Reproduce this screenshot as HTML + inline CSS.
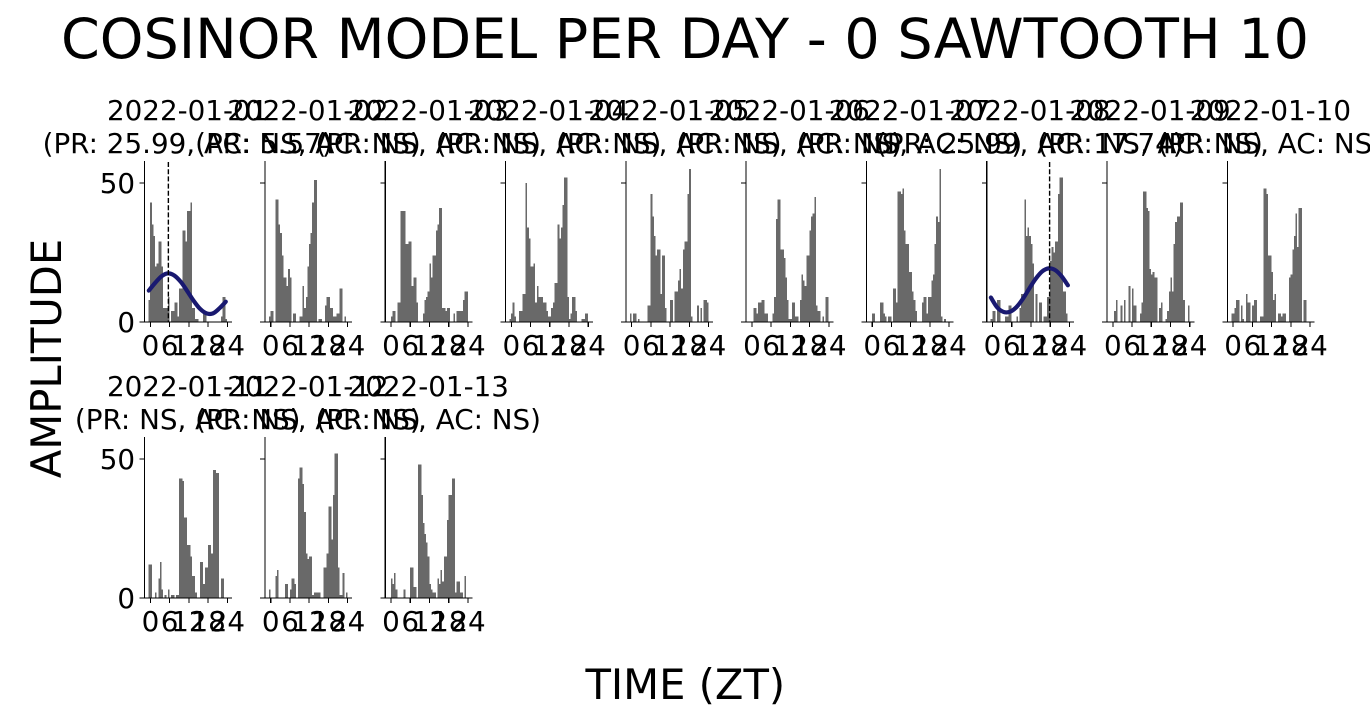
<!DOCTYPE html>
<html lang="en">
<head>
<meta charset="utf-8">
<title>Cosinor model per day</title>
<style>
  html, body { margin: 0; padding: 0; background: #fff; }
  body { width: 1370px; height: 715px; overflow: hidden; }
  svg { display: block; font-family: "DejaVu Sans", "Liberation Sans", sans-serif; fill: #000; }
</style>
</head>
<body>
<svg id="chart" xmlns="http://www.w3.org/2000/svg" width="1370" height="715" viewBox="0 0 1370 715">
  <text x="685" y="58" font-size="55.56" text-anchor="middle">COSINOR MODEL PER DAY - 0 SAWTOOTH 10</text>
  <text x="685.3" y="699" font-size="41.67" text-anchor="middle">TIME (ZT)</text>
  <text x="0" y="0" font-size="41.67" text-anchor="middle" transform="translate(61 358.5) rotate(-90)">AMPLITUDE</text>
</svg>
<script>
const dayLabels = ["2022-01-01","2022-01-02","2022-01-03","2022-01-04","2022-01-05","2022-01-06","2022-01-07","2022-01-08","2022-01-09","2022-01-10","2022-01-11","2022-01-12","2022-01-13"];
const statLabels = ["(PR: 25.99, AC: 5.57)","(PR: NS, AC: NS)","(PR: NS, AC: NS)","(PR: NS, AC: NS)","(PR: NS, AC: NS)","(PR: NS, AC: NS)","(PR: NS, AC: NS)","(PR: 25.99, AC: 17.74)","(PR: NS, AC: NS)","(PR: NS, AC: NS)","(PR: NS, AC: NS)","(PR: NS, AC: NS)","(PR: NS, AC: NS)"];
const xTickValues = [0, 6, 12, 18, 24];
const xTickLabels = ["0", "6", "12", "18", "24"];
const yTickValues = [0, 50];
const yTickLabels = ["0", "50"];

const day01 = [8,43,35,31,20,21,29,29,20,5,5,5,9,0,4,4,7,7,2,12,12,33,33,29,40,40,43,5,5,1,1,0,0,0,4,4,0,0,0,0,0,0,0,0,0,2,9,9,1];
const day02 = [2,4,4,0,44,44,35,32,24,16,16,13,19,16,0,3,3,0,0,2,2,13,5,9,20,28,32,43,51,51,0,1,1,0,0,6,9,9,5,5,2,2,3,3,12,12,0,2,0];
const day03 = [0,2,4,4,0,7,7,40,40,40,28,28,29,29,13,16,16,7,0,0,0,3,8,9,11,21,16,24,24,33,35,41,41,5,5,4,5,5,0,0,3,0,4,4,4,4,8,11,11];
const day04 = [1,3,7,2,0,0,4,4,10,10,50,34,30,20,20,21,7,13,9,9,9,7,7,4,2,2,5,7,14,14,35,30,34,42,52,52,9,1,3,9,9,4,0,0,0,1,1,3,3];
const day05 = [3,0,3,3,0,1,0,0,0,0,0,6,6,46,38,31,24,26,26,10,24,24,5,0,0,8,8,0,11,11,15,19,12,26,29,29,46,55,2,0,0,0,6,0,5,0,8,8,7];
const day06 = [0,0,5,5,3,7,7,8,8,3,3,0,0,0,3,9,37,44,44,26,26,23,16,8,1,1,7,7,2,2,0,8,17,15,13,24,24,33,38,39,45,6,4,4,0,2,0,9,9];
const day07 = [0,3,3,0,0,0,7,7,3,2,0,2,2,0,12,12,7,47,47,46,48,33,28,28,18,18,11,8,4,0,0,0,7,9,9,3,9,9,15,17,28,38,36,55,2,0,1,0,0];
const day08 = [1,4,4,0,8,8,0,0,0,2,2,6,6,0,0,0,2,0,5,10,10,44,31,34,31,28,21,0,10,0,7,7,0,2,2,9,9,22,27,25,29,29,46,52,52,11,11,3,0];
const day09 = [0,0,4,8,0,0,6,0,8,0,0,13,0,12,6,6,0,0,3,7,47,47,41,40,19,17,18,16,16,0,5,7,0,0,1,4,11,16,11,28,36,38,38,43,43,8,0,0,6];
const day10 = [3,3,5,8,8,0,6,1,0,10,7,7,0,6,8,8,0,0,2,2,48,48,46,24,24,18,8,10,0,3,3,2,3,3,0,0,16,17,26,31,39,27,41,41,0,8,8,0,0];
const day11 = [12,12,0,0,2,0,7,13,3,0,1,0,3,0,1,1,0,1,1,43,43,42,29,29,19,19,15,8,8,2,0,0,13,13,5,11,11,19,19,16,46,46,45,45,0,7,7,0,0];
const day12 = [3,0,0,0,8,10,0,0,0,0,5,5,0,3,7,7,5,0,43,47,47,41,31,16,14,15,15,1,2,2,2,2,0,0,11,11,16,33,33,21,37,52,52,11,1,1,9,0,2];
const day13 = [0,7,5,9,3,0,0,0,0,3,0,0,0,11,11,4,4,0,48,48,37,27,23,20,15,5,3,2,2,0,7,5,10,6,15,15,28,37,37,43,43,2,6,6,2,2,0,8,0];
const dayBins = [day01,day02,day03,day04,day05,day06,day07,day08,day09,day10,day11,day12,day13];

const curveHours = [-0.5,1.5,3.5,5.5,7.5,9.5,11.5,13.5,15.5,17.5,19.5,21.5,23.5];
const curveDay01 = [11.3,14.1,16.5,17.5,16.7,14.4,11.1,7.6,4.7,3.1,3.1,4.9,7.3];
const curveDay08 = [8.8,5.2,3.6,3.7,5.4,8.4,12.1,15.6,18.2,19.3,18.7,16.5,13.2];
const curvesByPanel = { 0: curveDay01, 7: curveDay08 };
const acrophaseByPanel = { 0: 5.6, 7: 17.8 };

const NS = "http://www.w3.org/2000/svg";
const svg = document.getElementById("chart");
const binHours = 0.5;
const binStart = -0.55;
const rowBase = [322, 598];
const rowTop = [161, 437];
const columnStep = 120.3;
const firstColumn = 144.6;
const axisWidth = 87.3;
const perColumn = 10;

function axisLeft(panel) { return firstColumn + columnStep * (panel % perColumn); }
function rowOf(panel) { return Math.floor(panel / perColumn); }
function xScale(panel, hour) { return axisLeft(panel) + 5.8 + hour * 3.208; }
function yScale(panel, value) { return rowBase[rowOf(panel)] - value * 2.78; }

function make(tag, parent, attrs) {
  const el = document.createElementNS(NS, tag);
  for (const key in attrs) el.setAttribute(key, attrs[key]);
  parent.appendChild(el);
  return el;
}

function smoothPath(xs, ys) {
  let d = "M" + xs[0].toFixed(2) + " " + ys[0].toFixed(2);
  for (let i = 0; i < xs.length - 1; i++) {
    const p0 = Math.max(i - 1, 0), p3 = Math.min(i + 2, xs.length - 1);
    const c1x = xs[i] + (xs[i + 1] - xs[p0]) / 6, c1y = ys[i] + (ys[i + 1] - ys[p0]) / 6;
    const c2x = xs[i + 1] - (xs[p3] - xs[i]) / 6, c2y = ys[i + 1] - (ys[p3] - ys[i]) / 6;
    d += "C" + c1x.toFixed(2) + " " + c1y.toFixed(2) + " " + c2x.toFixed(2) + " " + c2y.toFixed(2) + " " + xs[i + 1].toFixed(2) + " " + ys[i + 1].toFixed(2);
  }
  return d;
}

function drawPanel(panel) {
  const group = make("g", svg, {});
  
  
  const left = axisLeft(panel), base = rowBase[rowOf(panel)], top = rowTop[rowOf(panel)];
  const centre = left + axisWidth / 2 - 0.6;

  dayBins[panel].forEach(function (value, index) {
    if (value <= 0) return;
    const x0 = xScale(panel, binStart + index * binHours);
    const x1 = xScale(panel, binStart + (index + 1) * binHours);
    const y = yScale(panel, value);
    const bar = make("rect", group, { x: x0, y: y, width: x1 - x0, height: base - y, fill: "#696969", "shape-rendering": "crispEdges" });
    
    
  });

  const curve = curvesByPanel[panel];
  if (curve) {
    const line = make("path", group, {
      d: smoothPath(curveHours.map(function (h) { return xScale(panel, h); }), curve.map(function (v) { return yScale(panel, v); })),
      fill: "none", stroke: "#191970", "stroke-width": 4.2, "stroke-linecap": "round"
    });
    
    
    const ax = xScale(panel, acrophaseByPanel[panel]);
    const peak = make("line", group, { x1: ax, x2: ax, y1: top + 1, y2: base, stroke: "#000", "stroke-width": 1.4, "stroke-dasharray": "5 2.2" });
    
    
  }

  const leftSpine = make("line", group, { x1: left, x2: left, y1: top, y2: base + 0.5, stroke: "#000", "stroke-width": 1.1, "shape-rendering": "crispEdges" });
  
  
  const bottomSpine = make("line", group, { x1: left, x2: left + axisWidth, y1: base, y2: base, stroke: "#000", "stroke-width": 1.1, "shape-rendering": "crispEdges" });
  
  

  xTickValues.forEach(function (value, index) {
    const x = xScale(panel, value);
    const tick = make("line", group, { x1: x, x2: x, y1: base, y2: base + 4.9, stroke: "#000", "stroke-width": 1.1, "shape-rendering": "crispEdges" });
    
    
    const label = make("text", group, { x: x, y: base + 33, "font-size": 27.78, "text-anchor": "middle" });
    label.textContent = xTickLabels[index];
    
    
  });

  yTickValues.forEach(function (value, index) {
    const y = yScale(panel, value);
    const tick = make("line", group, { x1: left - 4.9, x2: left, y1: y, y2: y, stroke: "#000", "stroke-width": 1.1, "shape-rendering": "crispEdges" });
    
    
    if (panel % perColumn === 0) {
      const label = make("text", group, { x: left - 9.5, y: y + 10.2, "font-size": 27.78, "text-anchor": "end" });
      label.textContent = yTickLabels[index];
      
      
    }
  });

  const dayTitle = make("text", group, { x: centre, y: top - 41, "font-size": 27.78, "text-anchor": "middle" });
  dayTitle.textContent = dayLabels[panel];
  
  
  const statTitle = make("text", group, { x: centre, y: top - 8, "font-size": 27.78, "text-anchor": "middle" });
  statTitle.textContent = statLabels[panel];
  
  
}

dayLabels.forEach(function (_, panel) { drawPanel(panel); });
</script>
</body>
</html>
